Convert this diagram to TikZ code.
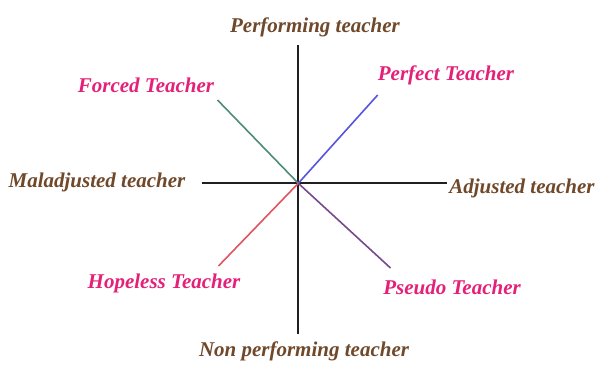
\documentclass[tikz,border=0pt]{standalone}
\usepackage{fontspec}
\setmainfont{Liberation Serif}
\definecolor{labbrown}{RGB}{112,72,42}
\definecolor{labpink}{RGB}{228,32,120}
\definecolor{lngreen}{RGB}{78,140,118}
\definecolor{lnblue}{RGB}{88,84,222}
\definecolor{lnred}{RGB}{226,84,96}
\definecolor{lnpurple}{RGB}{118,74,140}
\definecolor{axis}{RGB}{34,30,34}
\tikzset{
  axislab/.style={text=labbrown, font=\fontsize{21}{23}\selectfont\bfseries\itshape, inner sep=0pt},
  typelab/.style={text=labpink, font=\fontsize{21}{23}\selectfont\bfseries\itshape, inner sep=0pt},
  axisline/.style={draw=axis, line width=2pt},
  diag/.style={line width=1.6pt}
}
\begin{document}
\begin{tikzpicture}[x=1pt,y=-1pt]
\useasboundingbox (0,0) rectangle (598,369);
\fill[white] (0,0) rectangle (598,369);
\coordinate (c) at (298.3,183.3);
\coordinate (top) at (298.3,45);
\coordinate (bot) at (298.3,334);
\coordinate (lft) at (201.7,183.3);
\coordinate (rgt) at (446.5,183.3);
\coordinate (ne) at (377.7,95);
\coordinate (nw) at (217.5,100);
\coordinate (sw) at (218.5,266);
\coordinate (se) at (390.5,268);
\draw[axisline] (top) -- (bot);
\draw[axisline] (lft) -- (rgt);
\draw[diag, lnblue] (c) -- (ne);
\draw[diag, lngreen] (c) -- (nw);
\draw[diag, lnred] (c) -- (sw);
\draw[diag, lnpurple] (c) -- (se);
\node[axislab] (perf) at (315,27) {Performing teacher};
\node[axislab] (nonperf) at (304,351) {Non performing teacher};
\node[axislab] (mal) at (97,182) {Maladjusted teacher};
\node[axislab] (adj) at (522,188) {Adjusted teacher};
\node[typelab] (perfect) at (446,75) {Perfect Teacher};
\node[typelab] (forced) at (146,85) {Forced Teacher};
\node[typelab] (hopeless) at (164,283) {Hopeless Teacher};
\node[typelab] (pseudo) at (452,287) {Pseudo Teacher};
\end{tikzpicture}
\end{document}
